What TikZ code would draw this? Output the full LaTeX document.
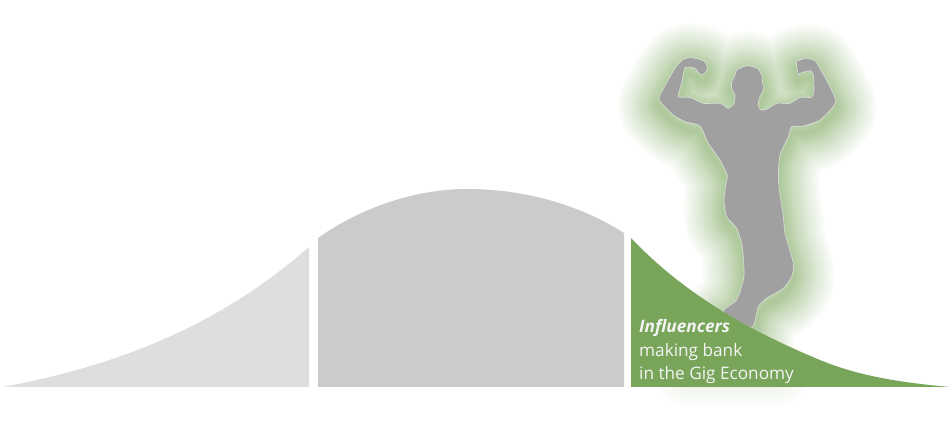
\documentclass[tikz,border=0pt]{standalone}
\usepackage{fontspec}
\setmainfont{Open Sans}
\definecolor{lightgrey}{HTML}{DEDEDE}
\definecolor{midgrey}{HTML}{CBCBCB}
\definecolor{bodygrey}{HTML}{A0A0A0}
\definecolor{leaf}{HTML}{78A55A}
\definecolor{paletext}{HTML}{F4F4F4}
\def\bodypath{plot[smooth cycle,tension=0.35] coordinates {
(380,77)(412,85)(425,105)(428,130)(432,140)(428,155)(418,175)(415,195)(422,210)(440,208)(470,190)(510,190)(540,172)(575,172)(582,150)(580,105)(570,92)(540,100)(535,105)(530,65)(560,55)(585,62)(600,85)(630,140)(647,180)(640,200)(600,240)(550,258)(515,260)(505,290)(480,345)(475,400)(478,450)(490,530)(495,580)(520,670)(515,710)(490,745)(440,775)(415,800)(395,862)(310,815)(350,780)(372,710)(367,620)(350,565)(320,530)(312,480)(320,420)(322,405)(300,360)(265,310)(240,258)(195,245)(160,225)(120,185)(120,165)(165,85)(190,58)(215,53)(250,62)(262,80)(255,100)(240,103)(225,85)(195,83)(185,130)(175,170)(210,172)(250,190)(300,190)(325,205)(342,190)(345,165)(335,145)(335,128)(345,105)(350,90)}}
\tikzset{
  glow/.style={draw=leaf,opacity=0.03,line join=round,line cap=round},
  caption/.style={text=paletext,font=\fontsize{17.2}{23.8}\selectfont,align=left,anchor=north west,inner sep=0pt}
}
\begin{document}
\begin{tikzpicture}[x=1pt,y=-1pt]
\useasboundingbox (0,0) rectangle (951,438);
% faint glow below the green tail
\foreach \w in {70,64,...,10}{
  \draw[glow,opacity=0.014,line width=\w pt] (690,372) -- (775,372);
}
% glow round the figure, offset slightly downward
\begin{scope}[shift={(620,47)},x=0.3333pt,y=-0.3333pt]
\foreach \w in {82,78,74,70,66,62,58,54,50,47,44,41,38,35,32,29,26,24,22,20,18,16,14,12,10,8,6,4,2}{
  \draw[glow,line width=\w pt] \bodypath;
}
\end{scope}
\begin{scope}[shift={(620,40)},x=0.3333pt,y=-0.3333pt]
\fill[bodygrey] \bodypath;
\draw[white,opacity=0.6,line width=0.6pt] \bodypath;
\end{scope}
% bell curve
\fill[lightgrey] (309,387) -- (3,387) .. controls (120,365) and (220,325) .. (309,247) -- cycle;
\fill[midgrey] (318,387) -- (318,238) .. controls (360,208) and (415,189) .. (467,189) .. controls (525,189) and (580,205) .. (624,233) -- (624,387) -- cycle;
\fill[leaf] (631,387) -- (631,238) .. controls (690,300) and (760,335) .. (820,360) .. controls (860,376.7) and (905,383) .. (950,387) -- cycle;
\node[caption] (label) at (639,319) {\textbf{\textit{Influencers}}\\making bank\\in the Gig Economy};
\end{tikzpicture}
\end{document}
